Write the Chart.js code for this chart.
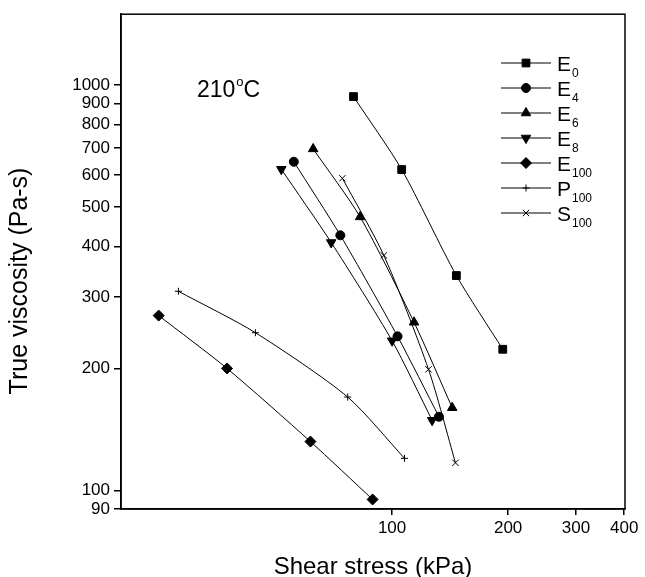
<!DOCTYPE html>
<html>
<head>
<meta charset="utf-8">
<script src="https://cdn.jsdelivr.net/npm/chart.js@4.4.0/dist/chart.umd.min.js"></script>
<style>
  html, body { margin: 0; padding: 0; background: #fff; }
  canvas { display: block; }
</style>
</head>
<body>
<canvas id="viscosityChart" width="645" height="577"></canvas>
<script>
// --- Data: shear stress (kPa) vs true viscosity (Pa-s) ---
const e0Stress = [79.4, 105.9, 146.8, 193.7];
const e0Visc = [937, 619, 339, 223];
const e4Stress = [55.6, 73.4, 103.3, 132.3];
const e4Visc = [647, 426, 240, 152];
const e6Stress = [62.4, 82.6, 114, 143.2];
const e6Visc = [696, 473, 260, 160];
const e8Stress = [51.6, 69.5, 100, 127];
const e8Visc = [620, 409, 234, 149];
const e100Stress = [24.8, 37.3, 61.4, 89];
const e100Visc = [270, 200, 132, 95];
const p100Stress = [27.9, 44.2, 76.7, 107.7];
const p100Visc = [310, 245, 170, 120];
const s100Stress = [74.3, 95.2, 124.3, 146];
const s100Visc = [589, 380, 199, 117];

const legendMain = ['E', 'E', 'E', 'E', 'E', 'P', 'S'];
const legendSub = ['0', '4', '6', '8', '100', '100', '100'];

const xTickValues = [100, 200, 300, 400];
const yTickValues = [90, 100, 200, 300, 400, 500, 600, 700, 800, 900, 1000];

const FONT = "'Liberation Sans', Arial, Helvetica, sans-serif";

function toPoints(xs, ys) {
    return xs.map((x, i) => ({ x: x, y: ys[i] }));
}

function makeSeries(xs, ys, style, radius, rotation) {
    return {
        data: toPoints(xs, ys),
        borderColor: '#000',
        backgroundColor: '#000',
        borderWidth: 1,
        pointStyle: style,
        pointRadius: radius,
        pointRotation: rotation || 0,
        pointBorderWidth: 1,
        tension: 0.25,
        fill: false
    };
}

const datasets = [
    makeSeries(e0Stress, e0Visc, 'rect', 5.5),
    makeSeries(e4Stress, e4Visc, 'circle', 4.5),
    makeSeries(e6Stress, e6Visc, 'triangle', 5.5),
    makeSeries(e8Stress, e8Visc, 'triangle', 5.5, 180),
    makeSeries(e100Stress, e100Visc, 'rectRot', 5.5),
    makeSeries(p100Stress, p100Visc, 'cross', 3.5),
    makeSeries(s100Stress, s100Visc, 'crossRot', 4.5)
];

// box around the plot area
const framePlugin = {
    id: 'frame',
    afterDraw(chart) {
        const { ctx, chartArea: a } = chart;
        ctx.save();
        ctx.strokeStyle = '#000';
        ctx.lineWidth = 1.5;
        ctx.strokeRect(a.left, a.top, a.right - a.left, a.bottom - a.top);
        ctx.restore();
    }
};

// titles, temperature note and legend with subscripts
const textPlugin = {
    id: 'texts',
    afterDraw(chart) {
        const ctx = chart.ctx;
        ctx.save();
        ctx.fillStyle = '#000';

        // y title
        ctx.save();
        ctx.translate(20, 281);
        ctx.rotate(-Math.PI / 2);
        ctx.font = '25px ' + FONT;
        ctx.textAlign = 'center';
        ctx.textBaseline = 'middle';
        ctx.fillText('True viscosity (Pa-s)', 0, 0);
        ctx.restore();

        // x title
        ctx.font = '24px ' + FONT;
        ctx.textAlign = 'center';
        ctx.textBaseline = 'alphabetic';
        ctx.fillText('Shear stress (kPa)', 373, 574);

        // 210°C
        ctx.textAlign = 'left';
        ctx.font = '23px ' + FONT;
        let x = 197;
        ctx.fillText('210', x, 97);
        x += ctx.measureText('210').width + 1;
        ctx.font = '13px ' + FONT;
        ctx.fillText('o', x, 86);
        x += ctx.measureText('o').width;
        ctx.font = '23px ' + FONT;
        ctx.fillText('C', x, 97);

        // legend
        chart.data.datasets.forEach((ds, i) => {
            const y = 63 + i * 25;
            ctx.strokeStyle = '#000';
            ctx.lineWidth = 1;
            ctx.beginPath();
            ctx.moveTo(501, y);
            ctx.lineTo(551, y);
            ctx.stroke();
            Chart.helpers.drawPoint(ctx, {
                pointStyle: ds.pointStyle,
                rotation: ds.pointRotation,
                radius: ds.pointRadius,
                borderWidth: 1
            }, 526, y);
            ctx.font = '21px ' + FONT;
            ctx.fillText(legendMain[i], 557, y + 8);
            const w = ctx.measureText(legendMain[i]).width;
            ctx.font = '12px ' + FONT;
            ctx.fillText(legendSub[i], 557 + w + 1, y + 14);
        });
        ctx.restore();
    }
};

const ctx = document.getElementById('viscosityChart').getContext('2d');
new Chart(ctx, {
    type: 'line',
    data: { datasets: datasets },
    options: {
        responsive: false,
        animation: false,
        layout: { padding: { top: 12, right: 20, left: 0, bottom: 0 } },
        plugins: {
            legend: { display: false },
            tooltip: { enabled: false }
        },
        scales: {
            x: {
                type: 'logarithmic',
                min: 19.8,
                max: 402,
                afterBuildTicks: scale => {
                    scale.ticks = xTickValues.map(v => ({ value: v }));
                },
                afterFit: scale => { scale.height = 68; },
                grid: { drawOnChartArea: false, color: '#000', tickLength: 6, lineWidth: 1.5 },
                border: { color: '#000', width: 1.5 },
                ticks: {
                    color: '#000',
                    font: { family: FONT, size: 17 },
                    padding: 3,
                    maxRotation: 0,
                    callback: v => String(v)
                }
            },
            y: {
                type: 'logarithmic',
                min: 90,
                max: 1496,
                afterBuildTicks: scale => {
                    scale.ticks = yTickValues.map(v => ({ value: v }));
                },
                afterFit: scale => { scale.width = 121; },
                grid: { drawOnChartArea: false, color: '#000', tickLength: 7, lineWidth: 1.5 },
                border: { color: '#000', width: 1.5 },
                ticks: {
                    color: '#000',
                    font: { family: FONT, size: 17 },
                    padding: 4,
                    callback: v => String(v)
                }
            }
        }
    },
    plugins: [framePlugin, textPlugin]
});
</script>
</body>
</html>
